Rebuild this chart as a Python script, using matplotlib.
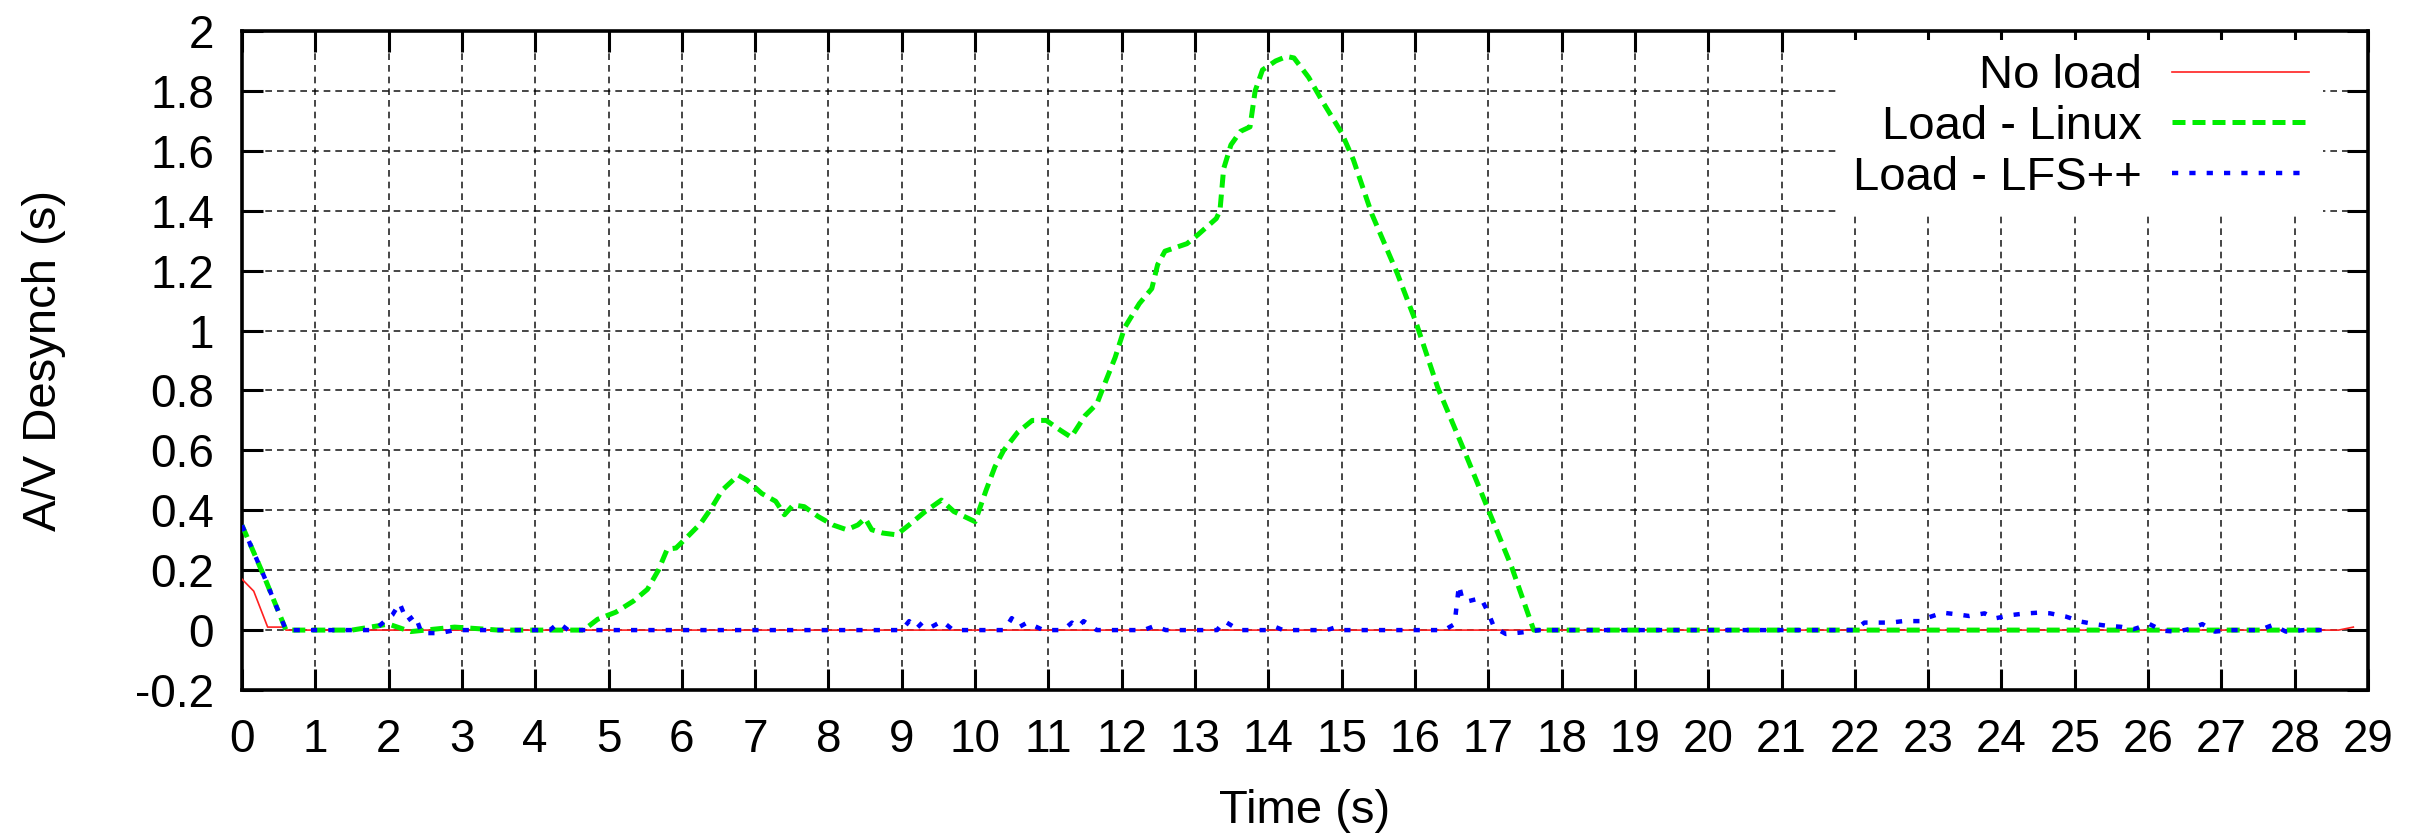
import matplotlib
matplotlib.use("Agg")
from matplotlib import pyplot as plt
from matplotlib.ticker import FuncFormatter
import numpy as np

plt.rcParams['font.family'] = ['Liberation Sans', 'DejaVu Sans']

# No load (red, thin solid)
noload_t = [0.0, 0.16, 0.35, 0.56, 0.6, 28.6, 28.8]
noload_v = [0.17, 0.13, 0.01, 0.01, 0.0, 0.0, 0.01]

# Load - Linux (green, dashed)
linux_t = [0.0, 0.3, 0.6, 1.5, 2.0, 2.3, 2.9, 3.5, 4.3, 4.66, 4.85, 5.1, 5.34, 5.53,
           5.68, 5.8, 5.92, 6.07, 6.26, 6.41, 6.55, 6.77, 6.89, 7.09, 7.28, 7.4,
           7.52, 7.67, 7.86, 8.06, 8.25, 8.4, 8.5, 8.59, 8.74, 8.93, 9.13, 9.32,
           9.54, 9.71, 10.0, 10.15, 10.27, 10.39, 10.58, 10.78, 10.97, 11.17,
           11.31, 11.5, 11.66, 11.78, 11.91, 12.04, 12.24, 12.41, 12.49, 12.59,
           12.89, 13.04, 13.29, 13.34, 13.39, 13.49, 13.62, 13.75, 13.82, 13.92,
           14.1, 14.25, 14.35, 14.55, 14.75, 15.0, 15.16, 15.41, 15.76, 16.01,
           16.31, 16.67, 17.02, 17.32, 17.62, 28.4]
linux_v = [0.35, 0.18, 0.0, 0.0, 0.02, -0.005, 0.01, 0.0, 0.0, 0.0, 0.036, 0.06, 0.097, 0.136,
           0.2, 0.27, 0.274, 0.31, 0.357, 0.41, 0.467, 0.517, 0.50, 0.456, 0.43, 0.385,
           0.418, 0.412, 0.379, 0.351, 0.335, 0.351, 0.373, 0.335, 0.324, 0.318, 0.357, 0.396,
           0.434, 0.396, 0.362, 0.467, 0.545, 0.6, 0.66, 0.70, 0.70, 0.666,
           0.644, 0.716, 0.755, 0.83, 0.91, 1.01, 1.09, 1.14, 1.22, 1.265,
           1.29, 1.32, 1.374, 1.40, 1.54, 1.62, 1.665, 1.68, 1.80, 1.87,
           1.90, 1.915, 1.91, 1.845, 1.76, 1.66, 1.57, 1.39, 1.19, 1.03,
           0.81, 0.60, 0.39, 0.21, 0.0, 0.0]

# Load - LFS++ (blue, dotted)
lfs_t = [0.0, 0.3, 0.6, 1.8, 1.9, 2.05, 2.15, 2.25, 2.36, 2.45, 2.7, 2.9, 4.2, 4.32, 4.45,
         9.0, 9.1, 9.2, 9.28, 9.4, 9.55, 9.7, 10.4, 10.5, 10.6, 10.71, 10.93, 11.2,
         11.32, 11.4, 11.48, 11.66, 12.3, 12.45, 12.6, 13.3, 13.4, 13.6, 14.0, 14.1,
         14.2, 14.8, 14.9, 15.0, 16.4, 16.54, 16.6, 16.65, 16.72, 16.9, 17.0, 17.08,
         17.24, 17.45, 17.7, 22.0, 22.13, 22.3, 22.49, 22.66, 22.91, 23.0, 23.2, 23.38,
         23.56, 23.77, 23.91, 24.13, 24.3, 24.49, 24.66, 24.88, 24.99, 25.09, 25.27,
         25.45, 25.63, 25.8, 26.02, 26.2, 26.38, 26.56, 26.74, 26.91, 27.13, 27.34,
         27.52, 27.7, 27.88, 28.13, 28.38]
lfs_v = [0.35, 0.18, 0.0, 0.0, 0.02, 0.05, 0.09, 0.03, 0.05, -0.01, -0.01, 0.0, 0.0, 0.024, 0.0,
         0.0, 0.03, 0.005, 0.025, 0.01, 0.03, 0.0, 0.0, 0.04, 0.01, 0.025, 0.0, 0.0,
         0.025, 0.01, 0.03, 0.0, 0.0, 0.014, 0.0, 0.0, 0.03, 0.0, 0.0, 0.01,
         0.0, 0.0, 0.008, 0.0, 0.0, 0.02, 0.15, 0.1, 0.096, 0.107, 0.058, 0.009,
         -0.013, -0.008, 0.0, 0.0, 0.025, 0.025, 0.025, 0.03, 0.03, 0.042, 0.058, 0.053,
         0.047, 0.056, 0.039, 0.05, 0.055, 0.058, 0.056, 0.045, 0.036, 0.028, 0.02,
         0.014, 0.011, 0.003, 0.02, -0.002, -0.005, 0.003, 0.02, -0.005, 0.0, 0.0,
         0.0, 0.017, -0.005, 0.0, 0.0]

x_ticks = np.arange(0, 30, 1)
y_ticks = np.arange(-0.2, 2.01, 0.2)

fig = plt.figure(figsize=(24.32, 8.39), dpi=100)
ax = fig.add_axes([242 / 2432, 1 - 690 / 839, (2368 - 242) / 2432, (690 - 31) / 839])

ax.plot(noload_t, noload_v, color='#ff2020', lw=1.2, label='No load', zorder=3)
ax.plot(linux_t, linux_v, color='#00ee00', lw=3.6, linestyle=(0, (2.6, 1.4)),
        label='Load - Linux', zorder=4)
ax.plot(lfs_t, lfs_v, color='#0000ff', lw=3.2, linestyle=(0, (1.4, 2.5)),
        label='Load - LFS++', zorder=5)

ax.set_xlim(0, 29)
ax.set_ylim(-0.2, 2)
ax.set_xticks(x_ticks)
ax.set_yticks(y_ticks)
ax.yaxis.set_major_formatter(FuncFormatter(lambda v, p: '%g' % round(v, 2)))

ax.grid(True, color='black', lw=1.2, linestyle=(0, (4, 3)), alpha=0.85)
ax.set_axisbelow(True)

ax.tick_params(direction='in', length=15, width=2.2, top=True, right=True,
               labelsize=33, pad=20)
for s in ax.spines.values():
    s.set_linewidth(2.6)

ax.set_xlabel('Time (s)', fontsize=34)
ax.set_ylabel('A/V Desynch (s)', fontsize=34)
ax.xaxis.set_label_coords(0.5, -0.15)
ax.yaxis.set_label_coords(-0.083, 0.5)

leg = ax.legend(loc='upper right', bbox_to_anchor=(0.979, 0.986), fontsize=34,
                markerfirst=False, handlelength=2.9, handletextpad=0.65,
                labelspacing=0.14, borderpad=0.3, borderaxespad=0,
                frameon=True, fancybox=False, framealpha=1)
leg.get_frame().set_facecolor('white')
leg.get_frame().set_edgecolor('none')

fig.savefig('out.png', dpi=100)
